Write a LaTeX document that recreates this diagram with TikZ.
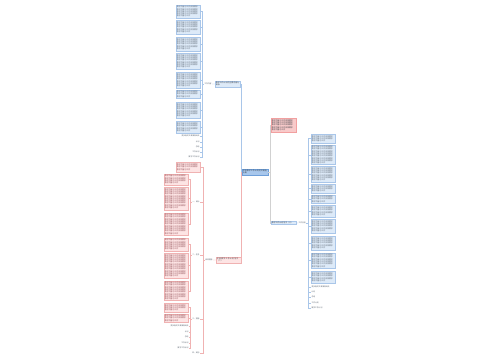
\documentclass[tikz,border=0pt]{standalone}
\usepackage{fontspec}
\newfontfamily\cjk{Noto Sans CJK SC}
\XeTeXlinebreaklocale "zh"
\XeTeXlinebreakskip=0pt plus 0.5pt
\definecolor{bfill}{HTML}{DDEAF8}
\definecolor{bdraw}{HTML}{A9C6E9}
\definecolor{rootfill}{HTML}{A8C7EC}
\definecolor{rootdraw}{HTML}{6E9FD9}
\definecolor{rfill}{HTML}{FDE4E4}
\definecolor{rdraw}{HTML}{F0B2B2}
\definecolor{rtop}{HTML}{F8CACA}
\definecolor{txtc}{HTML}{5A6470}
% one paragraph of #1 lines
\newcommand\filllines[1]{\foreach \j in {2,...,#1}{教学内容与工作安排要求\par}教学内容与工作}
\tikzset{
  leafb/.style={draw=bdraw, fill=bfill, line width=0.3pt, anchor=north west,
    inner sep=0.8pt, text width=22.4pt, align=left, text=txtc,
    font=\cjk\fontsize{1.9}{2.3}\selectfont},
  leafr/.style={leafb, draw=rdraw, fill=rfill, text=txtc!70!red},
  topicb/.style={draw=bdraw, fill=bfill, line width=0.3pt, inner sep=0.8pt,
    text width=23.4pt, align=left, text=txtc!60!black,
    font=\cjk\fontsize{1.9}{2.3}\selectfont},
  topicr/.style={topicb, draw=rdraw, fill=rfill},
  rootnode/.style={topicb, draw=rootdraw, fill=rootfill, text width=24.4pt},
  lbl/.style={inner sep=0.3pt, text=txtc, font=\cjk\fontsize{1.8}{2.2}\selectfont},
  bline/.style={draw=bdraw, line width=0.35pt},
  rline/.style={draw=rdraw, line width=0.35pt},
  gline/.style={draw=black!18, line width=0.35pt}
}
\begin{document}
\begin{tikzpicture}[x=1pt, y=-1pt]
  \useasboundingbox[fill=white] (0,0) rectangle (500,360);
  % centre
  \node[rootnode, anchor=north west] (root) at (242,169) {学校教学工作计划范文精选五篇};
  % upper left branch
  \node[topicb, anchor=north west] (tU) at (215,81) {教学工作计划的主要内容与目标};
  \node[lbl, anchor=east] (lU) at (212,84) {工作内容};
  \foreach \n/\t/\b in {1/5/18, 2/20/34, 3/37/51, 4/53/69, 5/72/88,
                        6/90/98, 7/102/118, 8/121/133} {
    \pgfmathtruncatemacro\k{max(2,(\b-\t-1.2)/2.2)}
    \node[leafb, minimum height={(\b-\t)*1pt}] (b\n) at (176,\t) {\filllines{\k}};
  }
  \node[lbl, anchor=east] (bs1) at (200,136) {更多相关文章推荐阅读};
  \node[lbl, anchor=east] (bs2) at (200,142) {计划};
  \node[lbl, anchor=east] (bs3) at (200,147) {总结};
  \node[lbl, anchor=east] (bs4) at (200,152) {工作计划};
  \node[lbl, anchor=east] (bs5) at (200,157) {教学工作计划};
  % lower left branch
  \node[topicr, anchor=north west] (tL) at (216,257) {学校教学工作计划范文（二）};
  \node[lbl, anchor=east] (lL) at (213,260) {具体措施};
  \node[leafr, minimum height=10pt] (r0) at (176,162) {\filllines{3}};
  \node[lbl, anchor=east] (s1) at (200,202) {一、目标};
  \node[lbl, anchor=east] (s2) at (200,255) {二、任务};
  \node[lbl, anchor=east] (s3) at (200,319) {三、措施};
  \node[lbl, anchor=east] (fin) at (200,353) {四、其他};
  \foreach \n/\t/\b in {a/174/185, b/187/210, c/213/235, d/238/251, e/253/278,
                        f/281/300, g/303/312, h/314/322} {
    \pgfmathtruncatemacro\k{max(2,(\b-\t-1.2)/2.2)}
    \node[leafr, minimum height={(\b-\t)*1pt}] (r\n) at (164,\t) {\filllines{\k}};
  }
  \node[lbl, anchor=east] (rs1) at (189,326) {更多相关文章推荐阅读};
  \node[lbl, anchor=east] (rs2) at (189,332) {计划};
  \node[lbl, anchor=east] (rs3) at (189,337) {总结};
  \node[lbl, anchor=east] (rs4) at (189,343) {工作计划};
  \node[lbl, anchor=east] (rs5) at (189,348) {教学工作计划};
  % right side
  \node[topicr, fill=rtop, draw=rdraw!90!red, anchor=north west, minimum height=14pt]
    (tR1) at (271,118) {\filllines{5}};
  \node[topicb, anchor=north west] (tR2) at (271,221) {教学工作计划范文（三）};
  \node[lbl, anchor=west] (lR) at (298,223) {工作总结};
  \foreach \n/\t/\b in {1/134/143, 2/145/164, 3/166/182, 4/184/193, 5/195/203,
                        6/205/217, 7/219/233, 8/236/250, 9/253/268, 10/271/283} {
    \pgfmathtruncatemacro\k{max(2,(\b-\t-1.2)/2.2)}
    \node[leafb, minimum height={(\b-\t)*1pt}] (c\n) at (311,\t) {\filllines{\k}};
  }
  \node[lbl, anchor=west] (cs1) at (311,287) {更多相关文章推荐阅读};
  \node[lbl, anchor=west] (cs2) at (311,292) {计划};
  \node[lbl, anchor=west] (cs3) at (311,297) {总结};
  \node[lbl, anchor=west] (cs4) at (311,303) {工作计划};
  \node[lbl, anchor=west] (cs5) at (311,308) {教学工作计划};
  % connectors
  \draw[bline] (root.west) -- ++(-1,0) |- (tU.east);
  \draw[rline] (root.west) -- ++(-1,0) |- (tL.east);
  \draw[gline] (root.east) -- ++(2,0) |- (tR1.west);
  \draw[gline] (root.east) -- ++(2,0) |- (tR2.west);
  \draw[bline] (tU.west) -- (lU.east);
  \foreach \i in {1,...,8} \draw[bline] (lU.west) -- ++(-2,0) |- (b\i.east);
  \foreach \i in {1,...,5} \draw[bline] (lU.west) -- ++(-2,0) |- (bs\i.east);
  \draw[rline] (tL.west) -- (lL.east);
  \foreach \n in {r0,s1,s2,s3,fin} \draw[rline] (lL.west) -- ++(-2,0) |- (\n.east);
  \foreach \n in {ra,rb,rc} \draw[rline] (s1.west) -- ++(-2,0) |- (\n.east);
  \foreach \n in {rd,re,rf} \draw[rline] (s2.west) -- ++(-2,0) |- (\n.east);
  \foreach \n in {rg,rh,rs1,rs2,rs3,rs4,rs5} \draw[rline] (s3.west) -- ++(-2,0) |- (\n.east);
  \draw[bline] (tR2.east) -- (lR.west);
  \foreach \i in {1,...,10} \draw[bline] (lR.east) -- ++(2,0) |- (c\i.west);
  \foreach \i in {1,...,5} \draw[bline] (lR.east) -- ++(2,0) |- (cs\i.west);
\end{tikzpicture}
\end{document}
